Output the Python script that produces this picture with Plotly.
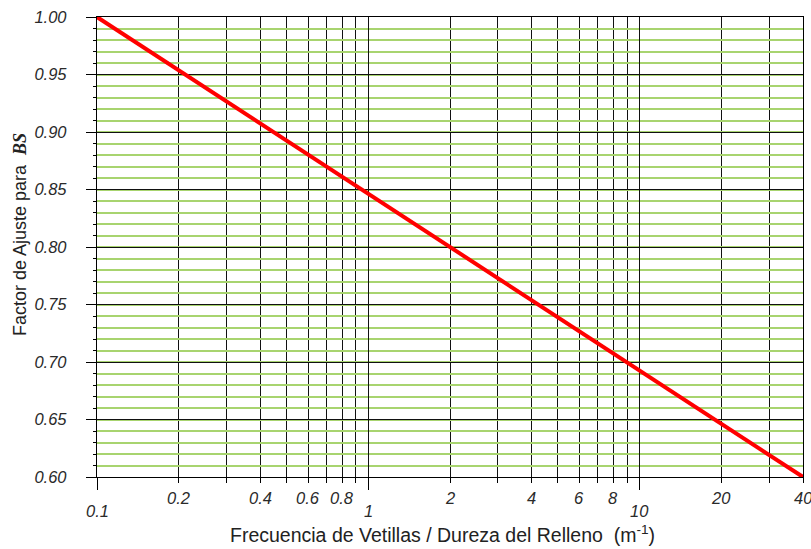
import math
import plotly.graph_objects as go

# Data
line_x = [0.1, 40]
line_y = [1.00, 0.60]

major_xticks = [0.1, 1, 10]
minor_xticks = [0.2, 0.3, 0.4, 0.5, 0.6, 0.7, 0.8, 0.9, 2, 3, 4, 5, 6, 7, 8, 9, 20, 30, 40]
xlabel_vals = [0.1, 0.2, 0.4, 0.6, 0.8, 1, 2, 4, 6, 8, 10, 20, 40]
xlabel_text = ["0.1", "0.2", "0.4", "0.6", "0.8", "1", "2", "4", "6", "8", "10", "20", "40"]
xlabel_low = [True, False, False, False, False, True, False, False, False, False, True, False, False]
ytick_vals = [0.60, 0.65, 0.70, 0.75, 0.80, 0.85, 0.90, 0.95, 1.00]
ytick_text = ["0.60", "0.65", "0.70", "0.75", "0.80", "0.85", "0.90", "0.95", "1.00"]
x_title = "Frecuencia de Vetillas / Dureza del Relleno  (m<sup>-1</sup>)"
y_title = ("Factor de Ajuste para  <b><i><span style='font-family:Liberation Serif, "
           "Times New Roman'>BS</span></i></b>")

fig = go.Figure()
fig.add_trace(go.Scatter(x=line_x, y=line_y, mode="lines",
                         line=dict(color="#ff0000", width=4), showlegend=False,
                         hoverinfo="skip"))

font_tick = dict(family="Liberation Sans, Arial", size=16.5, color="#2a2a2a",
                 style="italic")
font_title = dict(family="Liberation Sans, Arial", size=19.5, color="#222222")

annotations = []
for v, t, low in zip(xlabel_vals, xlabel_text, xlabel_low):
    annotations.append(dict(x=math.log10(v), y=0, xref="x", yref="paper",
                            text=t, showarrow=False,
                            yanchor="top", xanchor="center",
                            yshift=-23 if low else -10,
                            font=font_tick))

annotations.append(dict(x=0.4887, y=-0.124, xref="paper", yref="paper",
                        text=x_title, showarrow=False, xanchor="center",
                        yanchor="middle", font=font_title))
annotations.append(dict(x=-0.109, y=0.526, xref="paper", yref="paper",
                        text=y_title, showarrow=False, xanchor="center",
                        yanchor="middle", textangle=-90,
                        font=dict(family="Liberation Sans, Arial", size=18, color="#222222")))

fig.update_layout(
    width=811, height=549,
    margin=dict(l=97, r=8, t=17, b=72, autoexpand=False),
    plot_bgcolor="white", paper_bgcolor="white",
    annotations=annotations,
    xaxis=dict(
        type="log", range=[-1, 1.60206], automargin=False,
        tickmode="array", tickvals=major_xticks, showticklabels=False,
        ticks="outside", ticklen=12, tickcolor="black", tickwidth=1,
        showgrid=True, gridcolor="#111111", gridwidth=1.3,
        showline=True, linecolor="black", linewidth=1.3, mirror=True,
        zeroline=False,
        minor=dict(tickmode="array", tickvals=minor_xticks, ticks="outside",
                   ticklen=5, tickcolor="black", showgrid=True,
                   gridcolor="#111111", gridwidth=1.3),
    ),
    yaxis=dict(
        range=[0.60, 1.00], automargin=False,
        tickmode="array", tickvals=ytick_vals, ticktext=ytick_text,
        ticks="outside", ticklen=10, tickcolor="black", tickwidth=1,
        tickfont=font_tick, ticklabelstandoff=16,
        showgrid=True, gridcolor="#111111", gridwidth=1.3,
        showline=True, linecolor="black", linewidth=1.3, mirror=True,
        zeroline=False,
        minor=dict(dtick=0.01, tick0=0.0, ticks="outside", ticklen=3,
                   tickcolor="black", showgrid=True,
                   gridcolor="#a8d46f", gridwidth=1.5),
    ),
)

fig.write_html("out.html")
